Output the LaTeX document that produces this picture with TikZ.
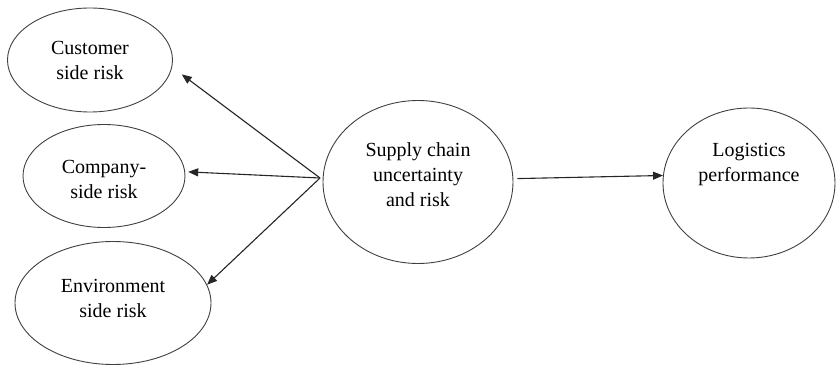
\documentclass[tikz,border=0pt]{standalone}
\usepackage{fontspec}
\setmainfont{Liberation Serif}
\usetikzlibrary{arrows.meta, shapes.geometric, positioning}

\begin{document}
\begin{tikzpicture}[x=1pt,y=-1pt,
	oval/.style={ellipse,draw=black!75,line width=0.9pt,inner sep=0pt},
	txt/.style={font=\fontsize{20}{25}\selectfont,align=center},
	arr/.style={draw=black!85,line width=1.1pt,-{Triangle[length=10pt,width=8pt]}}]
	\useasboundingbox (0,0) rectangle (836,366);

	% three kinds of risk on the left
	\node[oval,minimum width=165,minimum height=104,
		label={[txt]center:Customer\\side risk}] (cust) at (90,60) {};
	\node[oval,minimum width=162,minimum height=103,
		label={[txt,yshift=-3pt]center:Company-\\side risk}] (comp) at (104,176) {};
	\node[oval,minimum width=196,minimum height=123,
		label={[txt,yshift=5pt]center:Environment\\side risk}] (env) at (113,303) {};

	% middle and right
	\node[oval,minimum width=190,minimum height=163,
		label={[txt,yshift=7pt]center:Supply chain\\uncertainty\\and risk}] (sup) at (418,182) {};
	\node[oval,minimum width=172,minimum height=150,
		label={[txt,yshift=18pt]center:Logistics\\performance}] (log) at (749,183) {};

	% arrows
	\coordinate (hub) at (320,178);
	\draw[arr,shorten >=12pt] (hub) -- (cust.-5);
	\draw[arr,shorten >=3pt] (hub) -- (comp.3);
	\draw[arr] (hub) -- (env.11);
	\draw[arr,shorten <=4pt] (sup.2) -- (log.175);
\end{tikzpicture}
\end{document}
